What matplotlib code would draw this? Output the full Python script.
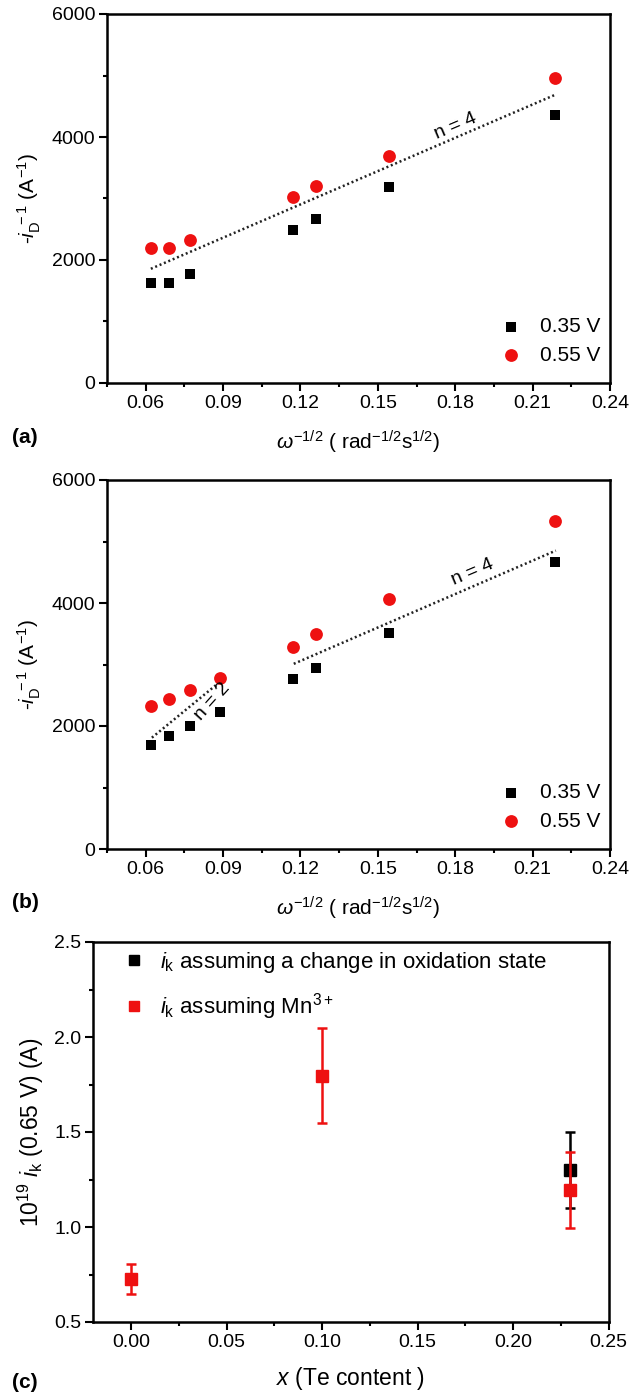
import matplotlib
matplotlib.use("Agg")
import matplotlib.pyplot as plt
from matplotlib.ticker import MultipleLocator, FuncFormatter
from matplotlib.lines import Line2D

plt.rcParams['font.family'] = ['Liberation Sans', 'DejaVu Sans']
plt.rcParams['mathtext.fontset'] = 'custom'
plt.rcParams['mathtext.rm'] = 'Liberation Sans'
plt.rcParams['mathtext.it'] = 'Liberation Sans:italic'
plt.rcParams['mathtext.bf'] = 'Liberation Sans:bold'

# ---- data ----
xa = [0.062, 0.069, 0.0773, 0.117, 0.1262, 0.1544, 0.2185]
a_035 = [1624, 1624, 1765, 2492, 2671, 3187, 4355]
a_055 = [2199, 2199, 2329, 3024, 3198, 3687, 4952]
a_fit_x = [0.062, 0.219]
a_fit_y = [1857, 4691]

xb = [0.062, 0.069, 0.0773, 0.089, 0.117, 0.1262, 0.1544, 0.2185]
b_035 = [1695, 1841, 1993, 2226, 2762, 2940, 3520, 4673]
b_055 = [2318, 2437, 2578, 2778, 3292, 3498, 4061, 5334]
b_fit2_x = [0.0624, 0.0900]
b_fit2_y = [1810, 2760]
b_fit4_x = [0.1174, 0.219]
b_fit4_y = [3011, 4852]

xc_black = [0.23]
c_black = [1.30]
c_black_err = [0.20]
xc_red = [0.0, 0.10, 0.23]
c_red = [0.725, 1.795, 1.197]
c_red_err = [0.08, 0.25, 0.20]

legend_labels = ['0.35 V', '0.55 V']
c_labels = [r'$i_{\mathrm{k}}$ assuming a change in oxidation state',
            r'$i_{\mathrm{k}}$ assuming Mn$^{3+}$']

RED = '#ee1111'
W, H = 631, 1395
fig = plt.figure(figsize=(W / 100, H / 100), dpi=100)

FS = 14
LFS = 15

def style(ax):
    for s in ax.spines.values():
        s.set_linewidth(1.8)
    ax.tick_params(which='both', direction='out', top=False, right=False,
                   labelsize=FS, width=1.5, pad=3)
    ax.tick_params(which='major', length=5.5)
    ax.tick_params(which='minor', length=3)

def ax_pos(l, t, r, b):
    return [l / W, 1 - b / H, (r - l) / W, (b - t) / H]

ylab_ab = r'-$i_{\mathrm{D}}^{\ -1}$ (A$^{-1}$)'
xlab_ab = r'$\omega^{-1/2}$ ( rad$^{-1/2}$s$^{1/2}$)'

def rde_panel(ax, x, y1, y2, fits, texts):
    ax.scatter(x, y1, marker='s', s=62, color='black', label=legend_labels[0],
               zorder=3, linewidths=0)
    ax.scatter(x, y2, marker='o', s=85, color=RED, label=legend_labels[1],
               zorder=3, linewidths=0)
    for fx, fy in fits:
        ax.plot(fx, fy, ls=(0, (0.8, 1.1)), color='#222222', lw=1.8, zorder=2)
    for (tx, ty, tt, rot) in texts:
        ax.text(tx, ty, tt, rotation=rot, fontsize=FS, ha='center', va='center',
                rotation_mode='anchor')
    ax.set_xlim(0.045, 0.24)
    ax.set_ylim(0, 6000)
    ax.xaxis.set_major_locator(MultipleLocator(0.03))
    ax.xaxis.set_minor_locator(MultipleLocator(0.015))
    ax.yaxis.set_major_locator(MultipleLocator(2000))
    ax.yaxis.set_minor_locator(MultipleLocator(1000))
    ax.xaxis.set_major_formatter(FuncFormatter(lambda v, p: f'{v:.2f}'))
    ax.set_ylabel(ylab_ab, fontsize=LFS, labelpad=6)
    ax.set_xlabel(xlab_ab, fontsize=LFS, labelpad=12)
    style(ax)
    ax.legend(loc='center left', bbox_to_anchor=(0.7825, 0.1138), frameon=False,
              fontsize=LFS, handlelength=1.0, handletextpad=0.9,
              borderpad=0, borderaxespad=0, labelspacing=0.45)

ax1 = fig.add_axes(ax_pos(107, 14, 610, 383))
rde_panel(ax1, xa, a_035, a_055, [(a_fit_x, a_fit_y)],
          [(0.18, 4180, 'n = 4', 23)])
fig.text(12 / W, 1 - 437 / H, '(a)', fontsize=LFS, fontweight='bold', va='center')

ax2 = fig.add_axes(ax_pos(107, 480, 610, 849))
rde_panel(ax2, xb, b_035, b_055, [(b_fit2_x, b_fit2_y), (b_fit4_x, b_fit4_y)],
          [(0.0857, 2400, 'n = 2', 48), (0.1869, 4500, 'n = 4', 23)])
fig.text(12 / W, 1 - 903 / H, '(b)', fontsize=LFS, fontweight='bold', va='center')

ax3 = fig.add_axes(ax_pos(93, 942, 608.5, 1322))
ax3.errorbar(xc_black, c_black, yerr=c_black_err, fmt='s', color='black', ms=8,
             capsize=3.5, elinewidth=1.8, capthick=1.8, zorder=3)
ax3.errorbar(xc_red, c_red, yerr=c_red_err, fmt='s', color=RED, ms=8,
             capsize=3.5, elinewidth=1.8, capthick=1.8, zorder=4)
ax3.set_xlim(-0.02, 0.25)
ax3.set_ylim(0.5, 2.5)
ax3.xaxis.set_major_locator(MultipleLocator(0.05))
ax3.xaxis.set_minor_locator(MultipleLocator(0.025))
ax3.yaxis.set_major_locator(MultipleLocator(0.5))
ax3.yaxis.set_minor_locator(MultipleLocator(0.25))
ax3.xaxis.set_major_formatter(FuncFormatter(lambda v, p: f'{v:.2f}'))
ax3.yaxis.set_major_formatter(FuncFormatter(lambda v, p: f'{v:.1f}'))
ax3.set_ylabel(r'10$^{19}$ $i_{\mathrm{k}}$ (0.65 V) (A)', fontsize=LFS + 1.5, labelpad=6)
ax3.set_xlabel(r'$x$ (Te content )', fontsize=LFS + 1.5, labelpad=10)
style(ax3)
handles = [Line2D([], [], marker='s', ls='none', color='black', ms=6.5),
           Line2D([], [], marker='s', ls='none', color=RED, ms=6.5)]
ax3.legend(handles, c_labels, loc='center left', bbox_to_anchor=(0.058, 0.884),
           frameon=False, fontsize=16, handlelength=1.0, handletextpad=0.69,
           borderpad=0, borderaxespad=0, labelspacing=0.75)
fig.text(12 / W, 1 - 1383 / H, '(c)', fontsize=LFS, fontweight='bold', va='center')

fig.savefig('out.png', dpi=100)
